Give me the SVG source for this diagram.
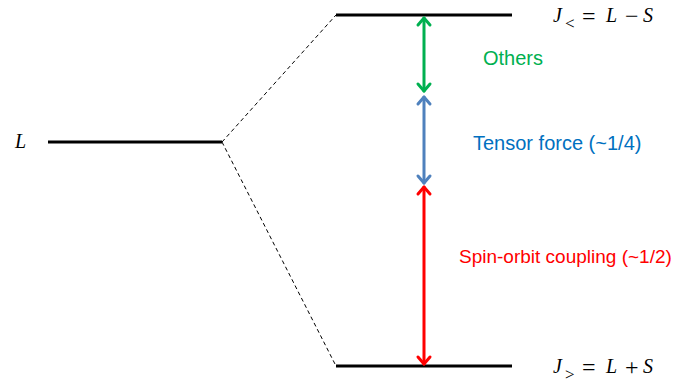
<svg xmlns="http://www.w3.org/2000/svg" width="692" height="385" viewBox="0 0 692 385">
  <defs>
    <style>
      .level { stroke: #000; stroke-width: 3; fill: none; }
      .split { stroke: #000; stroke-width: 1; stroke-dasharray: 4 3; fill: none; }
      .math { font-family: "Liberation Serif", "DejaVu Serif", serif; font-size: 20px; fill: #000; }
      .it { font-style: italic; }
      .op { font-size: 24px; }
      .sub { font-size: 17px; }
      .lbl { font-family: "Liberation Sans", Arial, sans-serif; }
      .arrow { stroke-width: 3; fill: none; stroke-linecap: round; stroke-linejoin: round; }
    </style>
  </defs>

  <!-- unsplit level -->
  <g id="level-L">
    <line class="level" x1="48" y1="142" x2="222" y2="142"/>
    <text class="math it" x="15" y="148">L</text>
  </g>

  <!-- upper split level -->
  <g id="level-Jlt">
    <line class="level" x1="336" y1="15" x2="512" y2="15"/>
    <text class="math it" x="553" y="22">J</text>
    <text class="math sub" x="565" y="29">&lt;</text>
    <text class="math op" x="582" y="24">=</text>
    <text class="math it" x="606" y="22">L</text>
    <text class="math op" x="625" y="24">−</text>
    <text class="math it" x="643" y="22">S</text>
  </g>

  <!-- lower split level -->
  <g id="level-Jgt">
    <line class="level" x1="336" y1="366" x2="512" y2="366"/>
    <text class="math it" x="553" y="373">J</text>
    <text class="math sub" x="565" y="380">&gt;</text>
    <text class="math op" x="582" y="375">=</text>
    <text class="math it" x="606" y="373">L</text>
    <text class="math op" x="625" y="375">+</text>
    <text class="math it" x="643" y="373">S</text>
  </g>

  <!-- connectors -->
  <g id="connectors">
    <line class="split" x1="222" y1="142" x2="336" y2="15"/>
    <line class="split" x1="222" y1="142" x2="336" y2="366"/>

    <!-- others -->
    <g stroke="#00B050" class="arrow">
      <line x1="424" y1="18" x2="424" y2="91"/>
      <polyline points="418,25 424,18 430,25"/>
      <polyline points="418,84 424,91 430,84"/>
    </g>
    <!-- tensor force -->
    <g stroke="#4F81BD" class="arrow">
      <line x1="424" y1="97" x2="424" y2="183"/>
      <polyline points="418,104 424,97 430,104"/>
      <polyline points="418,176 424,183 430,176"/>
    </g>
    <!-- spin-orbit -->
    <g stroke="#FF0000" class="arrow">
      <line x1="424" y1="187" x2="424" y2="364"/>
      <polyline points="418,194 424,187 430,194"/>
      <polyline points="418,357 424,364 430,357"/>
    </g>
  </g>

  <g id="label-others">
    <text class="lbl" x="483" y="65" font-size="20" fill="#00B050">Others</text>
  </g>
  <g id="label-tensor">
    <text class="lbl" x="473" y="150" font-size="20" fill="#0070C0">Tensor force (~1/4)</text>
  </g>
  <g id="label-spin-orbit">
    <text class="lbl" x="459" y="263" font-size="19" fill="#FF0000">Spin-orbit coupling (~1/2)</text>
  </g>
</svg>
